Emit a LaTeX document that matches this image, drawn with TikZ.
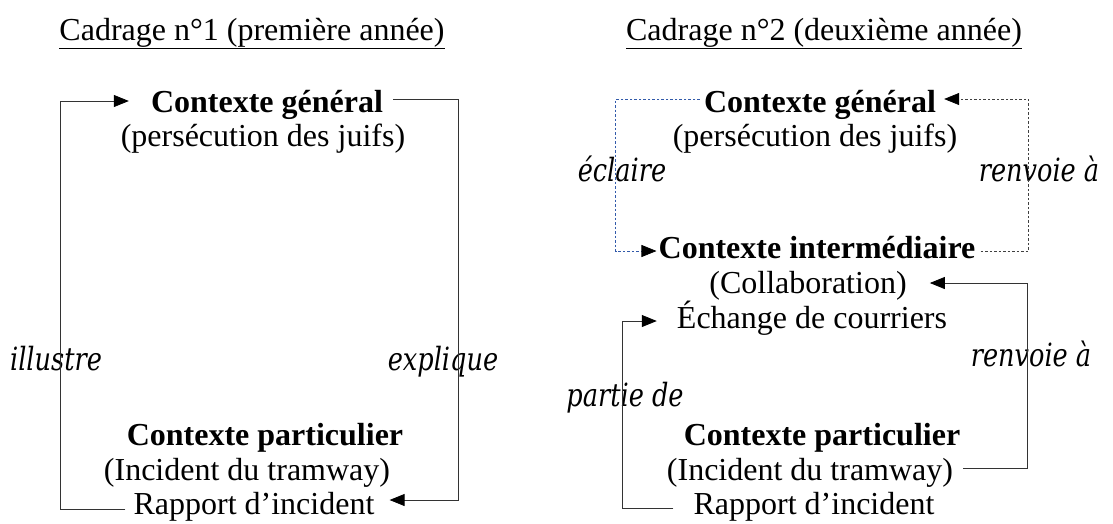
\documentclass[tikz,border=0pt]{standalone}
\usepackage{fontspec}
\setmainfont{Liberation Serif}
\newfontfamily\labfont[FakeStretch=0.8]{DejaVu Serif}
\usetikzlibrary{arrows.meta,calc}
\definecolor{dashblue}{RGB}{50,90,170}
\begin{document}
\begin{tikzpicture}[x=1pt,y=-1pt,
  txt/.style={anchor=base,inner sep=0pt,font=\fontsize{32}{36}\selectfont},
  bld/.style={txt,font=\fontsize{32}{36}\selectfont\bfseries},
  lab/.style={anchor=base,inner sep=0pt,font=\fontsize{32}{36}\selectfont\labfont\itshape},
  conn/.style={line width=0.8pt,draw=black!80},
  tip/.style={-{Triangle[length=15pt,width=12pt,color=black]}},
  bluedash/.style={line width=0.7pt,draw=dashblue,dash pattern=on 2.5pt off 2pt},
  greydash/.style={line width=0.7pt,draw=black!75,dash pattern=on 2.5pt off 2pt}]
\useasboundingbox (0,0) rectangle (1113,523);
% titles
\node[txt] (t1) at (252,40) {\underline{Cadrage n°1 (première année)}};
\node[txt] (t2) at (824,40) {\underline{Cadrage n°2 (deuxième année)}};
% left panel
\node[bld] (gen1) at (267,112) {Contexte général};
\node[txt] (pers1) at (263,146) {(persécution des juifs)};
\node[bld] (part1) at (265,445) {Contexte particulier};
\node[txt] (inc1) at (247,480) {(Incident du tramway)};
\node[txt] (rap1) at (254,514) {Rapport d’incident};
\node[lab] (ill) at (56,370) {illustre};
\node[lab] (exp) at (443,370) {explique};
\draw[conn,tip] ([xshift=-8pt,yshift=5pt]rap1.base west) -- ++(-65,0)
   |- ([xshift=-22pt,yshift=11pt]gen1.base west);
\draw[conn,tip] ([xshift=10pt,yshift=13pt]gen1.base east) -- ++(65,0)
   |- ([xshift=15pt,yshift=14pt]rap1.base east);
% right panel
\node[bld] (gen2) at (820,112) {Contexte général};
\node[txt] (pers2) at (815,146) {(persécution des juifs)};
\node[bld] (inter2) at (817,258) {Contexte intermédiaire};
\node[txt] (coll2) at (808,293) {(Collaboration)};
\node[txt] (ech2) at (812,328) {Échange de courriers};
\node[bld] (part2) at (822,445) {Contexte particulier};
\node[txt] (inc2) at (810,480) {(Incident du tramway)};
\node[txt] (rap2) at (814,514) {Rapport d’incident};
\node[lab] (ecl) at (622,181) {éclaire};
\node[lab] (ren1) at (1039,181) {renvoie à};
\node[lab] (ren2) at (1031,366) {renvoie à};
\node[lab] (pdt) at (625,406) {partie de};
\draw[bluedash,tip] ([xshift=-4pt,yshift=13pt]gen2.base west) -- ++(-84,0)
   |- ([xshift=-2pt,yshift=7pt]inter2.base west);
\draw[greydash,tip] ([xshift=5pt,yshift=7pt]inter2.base east) -- ++(48,0)
   |- ([xshift=8pt,yshift=13pt]gen2.base east);
\draw[conn,tip] ([xshift=10pt,yshift=12pt]inc2.base east) -- ++(64,0)
   |- ([xshift=23pt,yshift=10pt]coll2.base east);
\draw[conn,tip] ([xshift=-20pt,yshift=6pt]rap2.base west) -- ++(-51,0)
   |- ([xshift=-20pt,yshift=7pt]ech2.base west);
\end{tikzpicture}
\end{document}
